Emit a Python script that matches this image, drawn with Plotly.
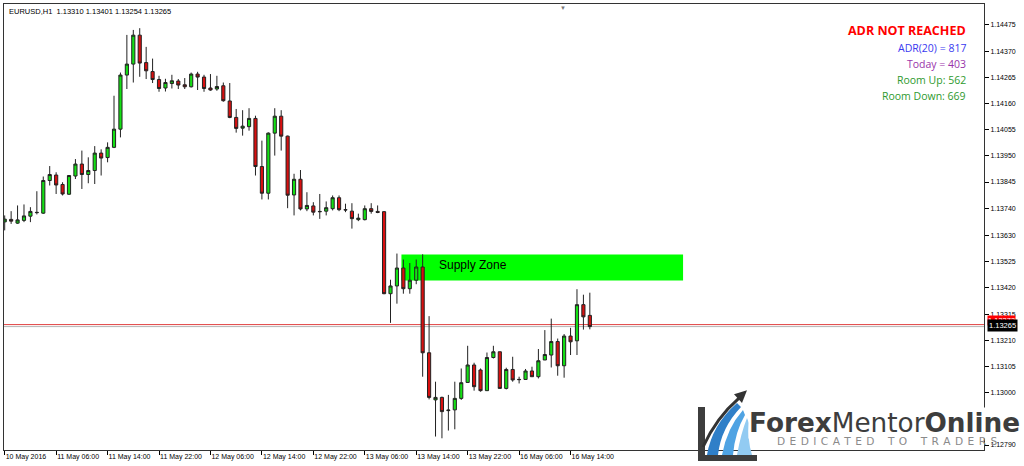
import plotly.graph_objects as go

# ---------------- data (EURUSD H1) ----------------
bar_index = list(range(92))
opens = [1.13685, 1.13695, 1.13680, 1.13691, 1.13708, 1.13722, 1.13720, 1.13851, 1.13873, 1.13835,
         1.13796, 1.13869, 1.13917, 1.13875, 1.13891, 1.13961, 1.13943, 1.13984, 1.14057, 1.14274,
         1.14318, 1.14434, 1.14324, 1.14288, 1.14256, 1.14222, 1.14240, 1.14250, 1.14235, 1.14227,
         1.14278, 1.14266, 1.14222, 1.14218, 1.14231, 1.14170, 1.14104, 1.14061, 1.14067, 1.14100,
         1.13907, 1.13800, 1.14041, 1.14109, 1.14029, 1.13793, 1.13856, 1.13737, 1.13749, 1.13727,
         1.13728, 1.13738, 1.13782, 1.13734, 1.13728, 1.13694, 1.13694, 1.13738, 1.13727, 1.13726,
         1.13397, 1.13428, 1.13500, 1.13417, 1.13451, 1.13504, 1.13160, 1.12971, 1.12981, 1.12928,
         1.12931, 1.12977, 1.13041, 1.13111, 1.13091, 1.13008, 1.13141, 1.13164, 1.13017, 1.13093,
         1.13052, 1.13053, 1.13087, 1.13064, 1.13131, 1.13151, 1.13205, 1.13108, 1.13227, 1.13208,
         1.13353, 1.13310]
highs = [1.13711, 1.13728, 1.13751, 1.13755, 1.13744, 1.13808, 1.13867, 1.13909, 1.13884, 1.13844,
         1.13873, 1.13937, 1.13971, 1.13944, 1.13989, 1.13976, 1.14004, 1.14191, 1.14284, 1.14435,
         1.14455, 1.14462, 1.14387, 1.14340, 1.14271, 1.14259, 1.14275, 1.14258, 1.14262, 1.14284,
         1.14287, 1.14275, 1.14278, 1.14271, 1.14244, 1.14242, 1.14138, 1.14133, 1.14141, 1.14111,
         1.14011, 1.14044, 1.14141, 1.14133, 1.14031, 1.13878, 1.13893, 1.13804, 1.13764, 1.13797,
         1.13767, 1.13791, 1.13791, 1.13758, 1.13760, 1.13718, 1.13751, 1.13760, 1.13751, 1.13728,
         1.13453, 1.13558, 1.13534, 1.13520, 1.13534, 1.13555, 1.13307, 1.13044, 1.12984, 1.12991,
         1.13044, 1.13097, 1.13188, 1.13120, 1.13097, 1.13161, 1.13188, 1.13164, 1.13100, 1.13144,
         1.13064, 1.13095, 1.13104, 1.13175, 1.13251, 1.13297, 1.13217, 1.13235, 1.13260, 1.13415,
         1.13393, 1.13401]
lows = [1.13651, 1.13677, 1.13677, 1.13684, 1.13684, 1.13715, 1.13717, 1.13831, 1.13797, 1.13791,
        1.13793, 1.13857, 1.13817, 1.13840, 1.13837, 1.13871, 1.13924, 1.13981, 1.14024, 1.14218,
        1.14244, 1.14267, 1.14258, 1.14242, 1.14207, 1.14208, 1.14220, 1.14218, 1.14218, 1.14224,
        1.14214, 1.14207, 1.14211, 1.14211, 1.14167, 1.14101, 1.14043, 1.14031, 1.14051, 1.13871,
        1.13775, 1.13775, 1.13951, 1.13971, 1.13740, 1.13711, 1.13731, 1.13728, 1.13711, 1.13697,
        1.13711, 1.13731, 1.13728, 1.13724, 1.13658, 1.13688, 1.13691, 1.13718, 1.13720, 1.13395,
        1.13280, 1.13357, 1.13397, 1.13397, 1.13435, 1.13064, 1.12973, 1.12824, 1.12817, 1.12848,
        1.12853, 1.12971, 1.13040, 1.13008, 1.13004, 1.13008, 1.13137, 1.13017, 1.13013, 1.13044,
        1.13037, 1.13051, 1.13064, 1.13057, 1.13131, 1.13101, 1.13068, 1.13060, 1.13151, 1.13151,
        1.13253, 1.13254]
closes = [1.13696, 1.13688, 1.13693, 1.13709, 1.13727, 1.13723, 1.13851, 1.13875, 1.13833, 1.13797,
          1.13871, 1.13917, 1.13875, 1.13891, 1.13961, 1.13941, 1.13984, 1.14057, 1.14274, 1.14318,
          1.14434, 1.14322, 1.14291, 1.14256, 1.14220, 1.14244, 1.14251, 1.14234, 1.14227, 1.14278,
          1.14266, 1.14220, 1.14214, 1.14228, 1.14171, 1.14104, 1.14060, 1.14069, 1.14100, 1.13907,
          1.13800, 1.14041, 1.14109, 1.14029, 1.13792, 1.13856, 1.13737, 1.13751, 1.13724, 1.13726,
          1.13742, 1.13782, 1.13734, 1.13733, 1.13698, 1.13700, 1.13738, 1.13727, 1.13723, 1.13397,
          1.13428, 1.13500, 1.13417, 1.13451, 1.13504, 1.13160, 1.12981, 1.12981, 1.12924, 1.12930,
          1.12977, 1.13040, 1.13111, 1.13024, 1.13008, 1.13141, 1.13164, 1.13017, 1.13093, 1.13051,
          1.13053, 1.13087, 1.13064, 1.13128, 1.13153, 1.13205, 1.13108, 1.13227, 1.13204, 1.13353,
          1.13304, 1.13265]

tick_bars = [0, 8, 16, 24, 32, 40, 48, 56, 64, 72, 80, 88]
tick_labels = ["10 May 2016", "11 May 06:00", "11 May 14:00", "11 May 22:00", "12 May 06:00",
               "12 May 14:00", "12 May 22:00", "13 May 06:00", "13 May 14:00", "13 May 22:00",
               "16 May 06:00", "16 May 14:00"]
price_ticks = [1.14475, 1.14370, 1.14265, 1.14160, 1.14055, 1.13950, 1.13845, 1.13740, 1.13630,
               1.13525, 1.13420, 1.13315, 1.13210, 1.13105, 1.13000, 1.12895, 1.12790]

bid_price = 1.13265
ask_price = 1.13273
zone_bars = [61.7, 105.5]
zone_prices = [1.13450, 1.13554]
header = "EURUSD,H1  1.13310 1.13401 1.13254 1.13265"
adr_lines = [("ADR NOT REACHED", "#ff0000", 12.5, True),
             ("ADR(20) = 817", "#3a3af0", 10.5, False),
             ("Today = 403", "#9933aa", 10.5, False),
             ("Room Up: 562", "#2e9a2e", 10.5, False),
             ("Room Down: 669", "#2e9a2e", 10.5, False)]

# ---------------- figure ----------------
fig = go.Figure(go.Candlestick(
    x=bar_index, open=opens, high=highs, low=lows, close=closes,
    increasing=dict(line=dict(color="#222222", width=1), fillcolor="#14e014"),
    decreasing=dict(line=dict(color="#222222", width=1), fillcolor="#d81010"),
    whiskerwidth=0, hoverinfo="skip", showlegend=False))

AX_FONT = dict(family="Liberation Sans, Arial", size=7, color="black")

fig.update_layout(
    width=1024, height=466,
    margin=dict(l=4, r=40, t=4, b=16, autoexpand=False),
    paper_bgcolor="white", plot_bgcolor="white", showlegend=False,
    xaxis=dict(range=[-0.109, 152.3], tickmode="array", tickvals=tick_bars, ticktext=tick_labels,
               tickangle=0, ticks="outside", ticklen=4, tickcolor="black", showgrid=False,
               zeroline=False, showline=True, linecolor="#333333", linewidth=1, mirror=True,
               rangeslider=dict(visible=False), ticklabelposition="outside right",
               tickfont=AX_FONT, automargin=False, fixedrange=True),
    yaxis=dict(side="right", range=[1.12770, 1.14559], tickmode="array", tickvals=price_ticks,
               ticktext=[f"{v:.5f}" for v in price_ticks], ticks="outside", ticklen=4,
               tickcolor="black", showgrid=False, zeroline=False, showline=True,
               linecolor="#333333", linewidth=1, mirror=True, tickfont=AX_FONT,
               automargin=False, fixedrange=True),
)

# supply zone + bid/ask lines
fig.add_shape(type="rect", xref="x", yref="y", x0=zone_bars[0], x1=zone_bars[1],
              y0=zone_prices[0], y1=zone_prices[1], fillcolor="#00ff00", line=dict(width=0),
              layer="below")
fig.add_shape(type="line", xref="paper", yref="y", x0=0, x1=1, y0=ask_price, y1=ask_price,
              line=dict(color="#e04040", width=1), layer="below")
fig.add_shape(type="line", xref="paper", yref="y", x0=0, x1=1, y0=bid_price, y1=bid_price,
              line=dict(color="#b4b4b4", width=1), layer="below")

fig.add_annotation(x=67.3, y=1.13514, xref="x", yref="y", text="Supply Zone", showarrow=False,
                   xanchor="left", yanchor="middle",
                   font=dict(family="Liberation Sans, Arial", size=12, color="black"))

# price labels on axis
fig.add_annotation(x=1, y=ask_price, xref="paper", yref="y", text=f"{ask_price:.5f}", showarrow=False,
                   xanchor="left", yanchor="middle", xshift=3, yshift=4, bgcolor="#ff0000",
                   borderpad=0, font=dict(family="Liberation Sans, Arial", size=7.5, color="white"))
fig.add_annotation(x=1, y=bid_price, xref="paper", yref="y", text=f"{bid_price:.5f}", showarrow=False,
                   xanchor="left", yanchor="middle", xshift=3, yshift=1, bgcolor="#000000",
                   borderpad=1, font=dict(family="Liberation Sans, Arial", size=7.5, color="white"))

# header text
fig.add_annotation(x=0.003, y=0.983, xref="paper", yref="paper", text=header, showarrow=False,
                   xanchor="left", yanchor="middle",
                   font=dict(family="Liberation Sans, Arial", size=7.5, color="black"))

# ADR info block
adr_y = [0.9396, 0.9016, 0.8658, 0.8300, 0.7942]
for (txt, col, sz, bold), yy in zip(adr_lines, adr_y):
    fig.add_annotation(x=0.9837, y=yy, xref="paper", yref="paper",
                       text=f"<b>{txt}</b>" if bold else txt, showarrow=False,
                       xanchor="right", yanchor="middle",
                       font=dict(family="Open Sans", size=sz, color=col))

# shift marker on top
fig.add_annotation(x=(563 - 4) / 980, y=1.0, xref="paper", yref="paper", text="▼", showarrow=False,
                   xanchor="center", yanchor="top", yshift=2,
                   font=dict(size=6, color="#777777"))


# ---------------- logo (decoration) ----------------
def P(x, y):
    return f"{(x - 4) / 980:.5f},{(450 - y) / 447:.5f}"


def add_path(d, fill, line_col=None, lw=0):
    fig.add_shape(type="path", xref="paper", yref="paper", path=d, fillcolor=fill,
                  line=dict(color=line_col or fill, width=lw), layer="above")


add_path(f"M {P(698,407)} L {P(705,407)} L {P(705,455)} L {P(757,455)} L {P(757,461)} L {P(698,461)} Z",
         "#3d3d3d")
add_path(f"M {P(707,455)} Q {P(712,425)} {P(737,403)} L {P(741,407)} Q {P(721,428)} {P(718,455)} Z",
         "#2f7fc8")
add_path(f"M {P(722,455)} Q {P(727,428)} {P(743,410)} L {P(745,415)} Q {P(735,432)} {P(733,455)} Z",
         "#4fa3e3")
add_path(f"M {P(737,455)} Q {P(741,433)} {P(747,418)} L {P(749,423)} Q {P(747,438)} {P(752,455)} Z",
         "#92cbf2")
fig.add_shape(type="path", xref="paper", yref="paper",
              path=f"M {P(703,447)} Q {P(716,418)} {P(739,398)}",
              line=dict(color="#333333", width=3), layer="above")
add_path(f"M {P(747,390)} L {P(734,394)} L {P(742,403)} Z", "#333333")

fig.add_annotation(x=(748 - 4) / 980, y=(450 - 423) / 447, xref="paper", yref="paper",
                   text="<b>Forex</b>Mentor<b>Online</b>", showarrow=False,
                   xanchor="left", yanchor="middle", bgcolor="white", borderpad=0,
                   font=dict(family="DejaVu Sans", size=26.3, color="#3d3d3d"))
letter_sep = "\u00a0\u200a"
word_sep = "\u00a0\u00a0\u00a0\u00a0"
words = ["DEDICATED", "TO", "TRADERS"]
tagline = word_sep.join(letter_sep.join(w) for w in words)
fig.add_annotation(x=(775 - 4) / 980, y=(450 - 441) / 447, xref="paper", yref="paper",
                   text=tagline, showarrow=False, xanchor="left", yanchor="middle",
                   font=dict(family="DejaVu Sans", size=10.6, color="#8a8a8a"))

fig.write_html("out.html", config={"displayModeBar": False},
               post_script="document.body.style.margin='0';document.body.style.overflow='hidden';")
